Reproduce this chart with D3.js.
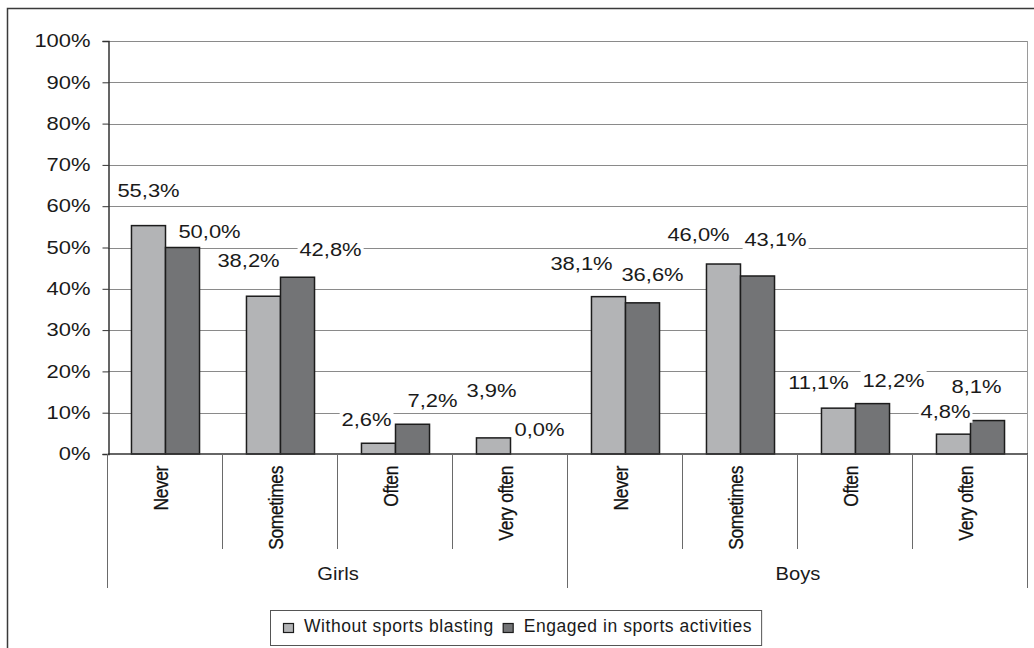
<!DOCTYPE html>
<html>
<head>
<meta charset="utf-8">
<script src="https://cdn.jsdelivr.net/npm/d3@7"></script>
<style>
  body { margin: 0; background: #fff; }
  svg { display: block; font-family: Arial, "Liberation Sans", sans-serif; }
</style>
</head>
<body>
<svg id="chart" width="1034" height="648"></svg>
<script>
// chart data
const groups = ["Girls", "Boys"];
const categories = ["Never", "Sometimes", "Often", "Very often"];
const seriesNames = ["Without sports blasting", "Engaged in sports activities"];
const withoutSports = [55.3, 38.2, 2.6, 3.9, 38.1, 46.0, 11.1, 4.8];
const engagedSports = [50.0, 42.8, 7.2, 0.0, 36.6, 43.1, 12.2, 8.1];
const yTicks = [0, 10, 20, 30, 40, 50, 60, 70, 80, 90, 100];

// hand-placed label nudges (dx, dy from bar top), like the original excel labels
const nudgeWithout = [[0, -29], [-15, -29], [-12, -17], [-2, -41], [-27, -27], [-25, -23], [-20, -19], [-8, -16]];
const nudgeEngaged = [[27, -10], [33, -21], [20, -17], [12, -18], [10, -22], [18, -30], [21, -17], [-11, -28]];

const WIDTH = 1034;
const HEIGHT = 648;
const margin = { left: 108, right: 6, top: 41, bottom: 194 };
const COLORS = ["#b3b4b6", "#737476"];
const NUM_FONT = 18;
const NUM_STRETCH = 1.22; // the numbers in the source are drawn wide

const svg = d3.select('#chart');

// outer frame (runs off the right and bottom edges)
svg.append('rect')
    .attr('x', 7.5).attr('y', 8.5)
    .attr('width', WIDTH + 20).attr('height', HEIGHT + 20)
    .attr('fill', 'none')
    .attr('stroke', '#3a3a3a')
    .attr('stroke-width', 1.5);

const rows = [];
groups.forEach((g, gi) => {
    categories.forEach((c, ci) => {
        const i = gi * categories.length + ci;
        rows.push({ group: g, cat: c, idx: i, values: [withoutSports[i], engagedSports[i]] });
    });
});

const x0 = d3.scaleBand()
    .domain(rows.map(d => d.idx))
    .range([margin.left, WIDTH - margin.right]);

const x1 = d3.scaleBand()
    .domain([0, 1])
    .range([0, x0.bandwidth()])
    .paddingOuter(0.69);

const y = d3.scaleLinear()
    .domain([0, 100])
    .range([HEIGHT - margin.bottom, margin.top]);

const plotBottom = y(0);
const plotRight = WIDTH - margin.right;

// gridlines
svg.append('g')
    .selectAll('line')
    .data(yTicks.filter(t => t > 0))
    .enter()
    .append('line')
    .attr('x1', margin.left).attr('x2', plotRight)
    .attr('y1', d => Math.round(y(d)) + 0.5)
    .attr('y2', d => Math.round(y(d)) + 0.5)
    .attr('stroke', '#8a8a8a')
    .attr('stroke-width', 1);

// right edge of plot area
svg.append('line')
    .attr('x1', plotRight - 0.5).attr('x2', plotRight - 0.5)
    .attr('y1', y(100)).attr('y2', plotBottom)
    .attr('stroke', '#9a9a9a');

// y axis
const yAxis = d3.axisLeft(y)
    .tickValues(yTicks)
    .tickSize(6)
    .tickFormat(d => d + '%');

const yAxisG = svg.append('g')
    .attr('transform', `translate(${margin.left + 0.5},0)`)
    .call(yAxis);
yAxisG.select('.domain').attr('stroke', '#333').attr('stroke-width', 1.5);
yAxisG.selectAll('.tick line').attr('stroke', '#333');
yAxisG.selectAll('.tick text')
    .attr('font-size', NUM_FONT)
    .attr('fill', '#1a1a1a')
    .attr('font-family', 'Arial, "Liberation Sans", sans-serif')
    .attr('x', -18 / NUM_STRETCH)
    .attr('transform', `scale(${NUM_STRETCH},1)`);

// bars
const catG = svg.append('g')
    .selectAll('g')
    .data(rows)
    .enter()
    .append('g')
    .attr('transform', d => `translate(${x0(d.idx)},0)`);

catG.selectAll('rect')
    .data(d => d.values.map((v, s) => ({ v, s })))
    .enter()
    .append('rect')
    .attr('x', d => x1(d.s))
    .attr('y', d => y(d.v))
    .attr('width', x1.bandwidth())
    .attr('height', d => plotBottom - y(d.v))
    .attr('fill', d => COLORS[d.s])
    .attr('stroke', '#1c1c1c')
    .attr('stroke-width', 1.5);

// x baseline
svg.append('line')
    .attr('x1', margin.left).attr('x2', plotRight)
    .attr('y1', plotBottom).attr('y2', plotBottom)
    .attr('stroke', '#333')
    .attr('stroke-width', 1.5);

// category separators
const catLineBottom = plotBottom + 95;
const groupLineBottom = plotBottom + 134;
const boundaries = d3.range(rows.length + 1);
svg.append('g')
    .selectAll('line')
    .data(boundaries)
    .enter()
    .append('line')
    .attr('x1', i => Math.round(margin.left + i * x0.step()) - 0.5)
    .attr('x2', i => Math.round(margin.left + i * x0.step()) - 0.5)
    .attr('y1', plotBottom)
    .attr('y2', i => (i % categories.length === 0) ? groupLineBottom : catLineBottom)
    .attr('stroke', '#6a6a6a');

// category labels, rotated
svg.append('g')
    .selectAll('text')
    .data(rows)
    .enter()
    .append('text')
    .attr('transform', d => `translate(${x0(d.idx) + x0.bandwidth() / 2 + 2},${plotBottom + 12}) rotate(-90) scale(0.97,1.15)`)
    .attr('text-anchor', 'end')
    .attr('font-size', 18)
    .attr('letter-spacing', '-0.4px')
    .attr('fill', '#111')
    .attr('stroke', '#111')
    .attr('stroke-width', 0.25)
    .text(d => d.cat);

// group labels
svg.append('g')
    .selectAll('text')
    .data(groups)
    .enter()
    .append('text')
    .attr('transform', (g, gi) => `translate(${margin.left + (gi + 0.5) * categories.length * x0.step()},${plotBottom + 126}) scale(1.12,1)`)
    .attr('text-anchor', 'middle')
    .attr('font-size', 18)
    .attr('fill', '#1a1a1a')
    .text(d => d);

// data labels with white backing
const labelData = [];
rows.forEach(r => {
    r.values.forEach((v, s) => {
        const nudge = (s === 0 ? nudgeWithout : nudgeEngaged)[r.idx];
        labelData.push({
            v,
            cx: x0(r.idx) + x1(s) + x1.bandwidth() / 2 + nudge[0],
            by: y(v) + nudge[1]
        });
    });
});

const labelG = svg.append('g');
labelData.forEach(d => {
    const g = labelG.append('g')
        .attr('transform', `translate(${d.cx},${d.by}) scale(${NUM_STRETCH},1)`);
    const bg = g.append('rect').attr('fill', '#fff');
    const t = g.append('text')
        .attr('text-anchor', 'middle')
        .attr('font-size', NUM_FONT)
        .attr('fill', '#1a1a1a')
        .text(d.v.toFixed(1).replace('.', ',') + '%');
    const box = t.node().getBBox();
    bg.attr('x', box.x - 1.5).attr('y', box.y)
        .attr('width', box.width + 3)
        .attr('height', box.height + 1);
});

// legend
const legendY = 610;
const legend = svg.append('g');
const legendBox = legend.append('rect')
    .attr('fill', '#fff')
    .attr('stroke', '#555')
    .attr('stroke-width', 1);

let cursor = 283;
seriesNames.forEach((name, s) => {
    legend.append('rect')
        .attr('x', cursor + 0.5)
        .attr('y', legendY + 13.5)
        .attr('width', 10)
        .attr('height', 9)
        .attr('fill', COLORS[s])
        .attr('stroke', '#1c1c1c')
        .attr('stroke-width', 1.2);
    const t = legend.append('text')
        .attr('x', cursor + 21)
        .attr('y', legendY + 22)
        .attr('font-size', 17.5)
        .attr('letter-spacing', '0.55px')
        .attr('fill', '#1a1a1a')
        .text(name);
    cursor += 21 + t.node().getComputedTextLength() + 9;
});
legendBox
    .attr('x', 270.5)
    .attr('y', legendY + 0.5)
    .attr('width', cursor - 270)
    .attr('height', 35);
</script>
</body>
</html>
